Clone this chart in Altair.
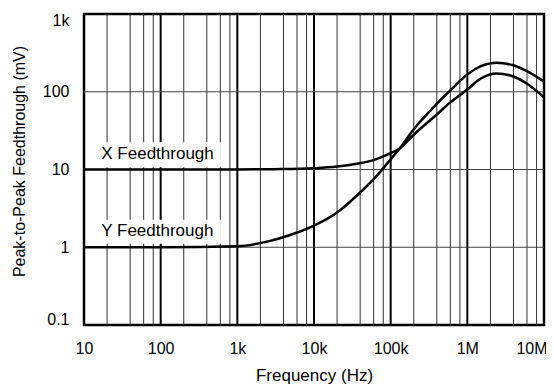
import altair as alt
import pandas as pd

# ---- data ----
x_freq = [10, 100, 1000, 3000, 10000, 20000, 30000, 60000, 100000, 130000,
          200000, 400000, 600000, 1e6, 1.5e6, 2.4e6, 4e6, 6e6, 1e7]
x_vals = [10, 10, 10, 10.1, 10.4, 10.9, 11.5, 13.2, 16.2, 18.5,
          28, 51, 73, 107, 148, 172, 157, 127, 85]

y_freq = [10, 100, 1000, 2600, 5000, 10000, 20000, 30000, 60000, 100000, 130000,
          200000, 400000, 600000, 1e6, 1.5e6, 2.4e6, 4e6, 6e6, 1e7]
y_vals = [1, 1, 1.03, 1.2, 1.45, 1.9, 2.8, 3.9, 7.5, 13.5, 18.5,
          33, 70, 104, 167, 213, 236, 219, 184, 135]

series_names = ["X Feedthrough", "Y Feedthrough"]

x_tick_values = [10, 100, 1000, 1e4, 1e5, 1e6, 1e7]
x_tick_labels = ["10", "100", "1k", "10k", "100k", "1M", "10M"]
y_tick_values = [0.1, 1, 10, 100, 1000]
y_tick_labels = ["0.1", "1", "10", "100", "1k"]

minor_mult = [2, 4, 6, 8]
decades = [10, 100, 1000, 1e4, 1e5, 1e6]

# ---- build tables ----
curves = pd.concat([
    pd.DataFrame({"f": x_freq, "v": x_vals, "s": series_names[0]}),
    pd.DataFrame({"f": y_freq, "v": y_vals, "s": series_names[1]}),
])
minor_df = pd.DataFrame({"f": [m * d for d in decades for m in minor_mult]})
major_df = pd.DataFrame({"f": decades[1:]})
hgrid_df = pd.DataFrame({"v": y_tick_values[1:-1]})

# label annotation placement (data space)
labels_df = pd.DataFrame({
    "s": series_names,
    "tx": [16.8, 16.8],
    "ty": [16, 1.62],
    "bx": [13.1, 13.1],
    "bx2": [611, 611],
    "by": [10.7, 1.11],
    "by2": [22.4, 2.26],
})

FONT = "Liberation Sans"
xs = alt.Scale(type="log", domain=[10, 1e7], nice=False)
ys = alt.Scale(type="log", domain=[0.1, 1000], nice=False)

x_label_expr = "[" + ",".join(f"'{t}'" for t in x_tick_labels) + "][round(log(datum.value)/LN10)-1]"
y_label_expr = "[" + ",".join(f"'{t}'" for t in y_tick_labels) + "][round(log(datum.value)/LN10)+1]"

x_axis = alt.Axis(
    values=x_tick_values, labelExpr=x_label_expr, grid=False, ticks=False, domain=False,
    labelFont=FONT, labelFontSize=16, labelColor="black", labelPadding=15,
    labelAlign={"condition": {"test": "datum.value >= 1e7", "value": "right"}, "value": "center"},
    labelOffset={"condition": {"test": "datum.value >= 1e7", "value": 3}, "value": 0},
    title="Frequency (Hz)", titleFont=FONT, titleFontSize=17, titleFontWeight="normal",
    titleColor="black", titlePadding=11,
)
y_axis = alt.Axis(
    values=y_tick_values, labelExpr=y_label_expr, grid=False, ticks=False, domain=False,
    labelFont=FONT, labelFontSize=16, labelColor="black", labelPadding=15,
    labelFlush=True, labelFlushOffset=2,
    title="Peak-to-Peak Feedthrough (mV)", titleFont=FONT, titleFontSize=16,
    titleFontWeight="normal", titleColor="black", titlePadding=15, titleY=147,
)

base_x = alt.X("f:Q", scale=xs, axis=x_axis)

minor = alt.Chart(minor_df).mark_rule(color="#333333", strokeWidth=1).encode(x=base_x)
major = alt.Chart(major_df).mark_rule(color="black", strokeWidth=2).encode(x=alt.X("f:Q", scale=xs))
hgrid = alt.Chart(hgrid_df).mark_rule(color="#444444", strokeWidth=1).encode(
    y=alt.Y("v:Q", scale=ys, axis=y_axis))

boxes = alt.Chart(labels_df).mark_rect(color="white").encode(
    x=alt.X("bx:Q", scale=xs), x2="bx2:Q", y=alt.Y("by:Q", scale=ys), y2="by2:Q")
texts = alt.Chart(labels_df).mark_text(
    font=FONT, fontSize=17, align="left", baseline="middle", color="black").encode(
    x=alt.X("tx:Q", scale=xs), y=alt.Y("ty:Q", scale=ys), text="s:N")

lines = alt.Chart(curves).mark_line(
    color="black", strokeWidth=2.5, interpolate="monotone", clip=True).encode(
    x=alt.X("f:Q", scale=xs), y=alt.Y("v:Q", scale=ys), detail="s:N")

chart = alt.layer(minor, major, hgrid, boxes, texts, lines).properties(
    width=460, height=311,
    autosize=alt.AutoSizeParams(type="none"),
    padding={"left": 76, "top": 6, "right": 2, "bottom": 59},
    background="white",
).configure_view(stroke="black", strokeWidth=2.5)

chart.save("out.html", embed_options={"renderer": "svg", "actions": False})
